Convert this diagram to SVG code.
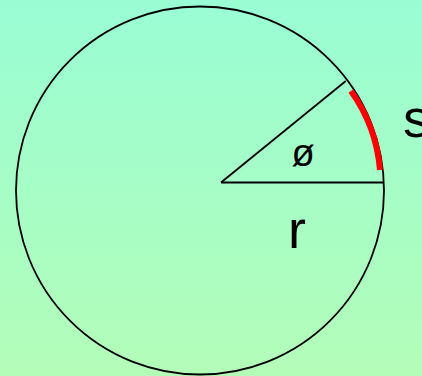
<svg xmlns="http://www.w3.org/2000/svg" width="422" height="376" viewBox="0 0 422 376">
  <defs>
    <linearGradient id="bg" x1="0" y1="0" x2="0" y2="1">
      <stop offset="0" stop-color="#99FDD4"/>
      <stop offset="1" stop-color="#B3FDB8"/>
    </linearGradient>
  </defs>
  <style>
    .ln { fill: none; stroke: #000; stroke-width: 1.8; }
    .lbl { font-family: "Liberation Sans", Arial, sans-serif; fill: #000; }
  </style>
  <rect x="0" y="0" width="422" height="376" fill="url(#bg)"/>
  <g id="circle">
    <circle class="ln" cx="200" cy="190.5" r="184"/>
  </g>
  <g id="connectors">
    <line class="ln" x1="221" y1="182.5" x2="383.8" y2="182.5"/>
    <line class="ln" x1="221" y1="182.5" x2="345.8" y2="81"/>
  </g>
  <g id="arc-s">
    <path d="M380,170 A158.5,158.5 0 0 0 351,91" fill="none" stroke="#FF0000" stroke-width="6"/>
  </g>
  <g id="labels">
    <text class="lbl" x="303" y="166" font-size="38" text-anchor="middle">ø</text>
    <text class="lbl" x="288" y="248" font-size="54">r</text>
    <text class="lbl" x="403" y="137" font-size="54">s</text>
  </g>
</svg>
